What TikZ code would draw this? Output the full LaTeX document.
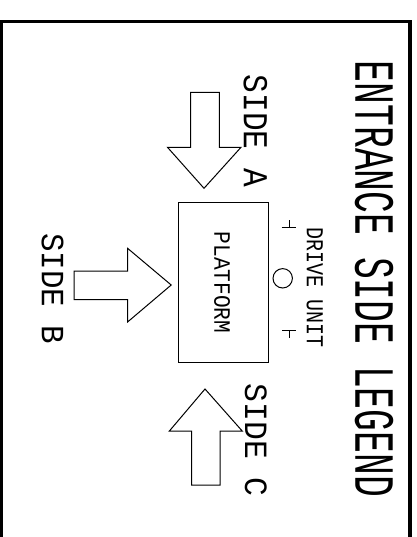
\documentclass[tikz,border=0pt]{standalone}
\usepackage{fontspec}
\setmainfont{Liberation Mono}
\usepackage{graphicx}
\begin{document}
\begin{tikzpicture}[x=1pt,y=-1pt,
  outline/.style={draw=black,line width=1pt,line join=miter},
  lbl/.style={inner sep=0pt,outer sep=0pt,rotate=-90,anchor=center}]
\useasboundingbox (0,0) rectangle (416,537);
\clip (0,0) rectangle (416,537);
\fill[white] (0,0) rectangle (416,537);
% frame
\draw[line width=3.2pt] (1.5,545) -- (1.5,21.6) -- (410,21.6) -- (410,545);
% title
\node[lbl] (title) at (374,279) {\resizebox{436pt}{38pt}{ENTRANCE SIDE LEGEND}};
% platform
\node[outline,rectangle,minimum width=90.5pt,minimum height=160pt,inner sep=0pt] (platform) at (223.5,282.7) {};
\node[lbl] (platformlbl) at (222.2,282.5) {\resizebox{101.6pt}{15.7pt}{PLATFORM}};
% drive unit
\node[lbl] (drivelbl) at (314.7,287.9) {\resizebox{120pt}{16pt}{DRIVE UNIT}};
\node[outline,circle,minimum size=19.4pt,inner sep=0pt] (motor) at (282.7,278.3) {};
\draw[outline] (281.7,227.3) -- (295.7,227.3) (289,220) -- (289,227.3);
\draw[outline] (282.3,330) -- (295.7,330) (289,330) -- (289,338.3);
% side A
\draw[outline] (190.7,92.5) -- (219.3,92.5) -- (219.3,147.3) -- (241,147.3) -- (204,188.3) -- (167.5,147.3) -- (190.7,147.3) -- cycle;
\node[lbl] (sidea) at (255.3,130.7) {\resizebox{112pt}{23.4pt}{SIDE A}};
% side B
\draw[outline] (74,271) -- (127.7,271) -- (127.7,248.4) -- (171.2,285) -- (127.7,321.9) -- (127.7,299.6) -- (74,299.6) -- cycle;
\node[lbl] (sideb) at (52.5,288.7) {\resizebox{111pt}{21.7pt}{SIDE B}};
% side C
\draw[outline] (191.7,485) -- (220,485) -- (220,431.1) -- (242.3,431.1) -- (205,389) -- (169.3,431.1) -- (191.7,431.1) -- cycle;
\node[lbl] (sidec) at (255.8,440.3) {\resizebox{113pt}{21.7pt}{SIDE C}};
\end{tikzpicture}
\end{document}
